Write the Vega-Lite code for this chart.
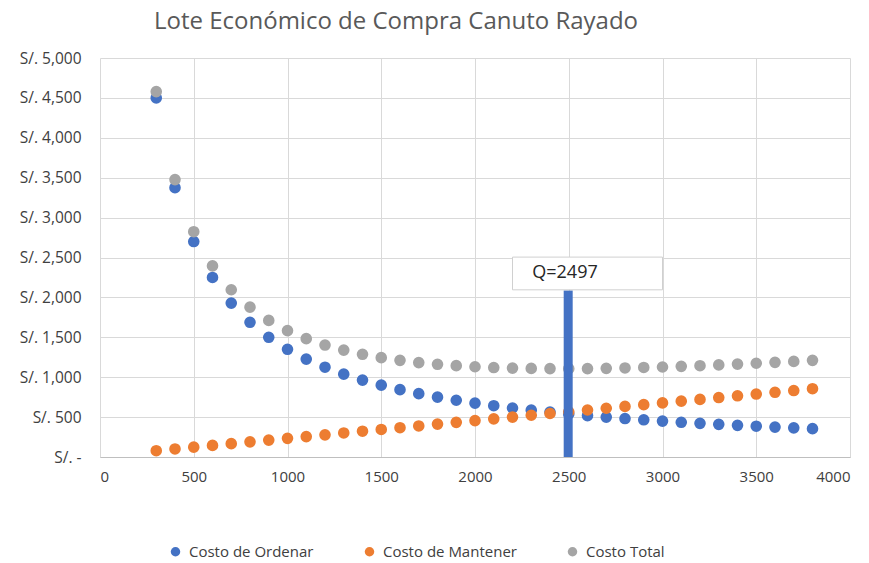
{
  "$schema": "https://vega.github.io/schema/vega-lite/v6.json",
  "width": 750,
  "height": 399,
  "autosize": "none",
  "padding": {"left": 100, "top": 58, "right": 19, "bottom": 106},
  "background": "white",
  "config": {
    "font": "Open Sans",
    "view": {"stroke": null},
    "axisY": {"labelOverlap": false}
  },
  "title": {
    "text": "Lote Económico de Compra Canuto Rayado",
    "fontSize": 24,
    "fontWeight": "normal",
    "color": "#595959",
    "offset": 17,
    "dx": -79
  },
  "datasets": {
    "costos": [
      {"q": 300, "Costo de Ordenar": 4500, "Costo de Mantener": 79, "Costo Total": 4579},
      {"q": 400, "Costo de Ordenar": 3375, "Costo de Mantener": 101, "Costo Total": 3476},
      {"q": 500, "Costo de Ordenar": 2700, "Costo de Mantener": 123, "Costo Total": 2823},
      {"q": 600, "Costo de Ordenar": 2250, "Costo de Mantener": 145, "Costo Total": 2395},
      {"q": 700, "Costo de Ordenar": 1929, "Costo de Mantener": 167, "Costo Total": 2096},
      {"q": 800, "Costo de Ordenar": 1688, "Costo de Mantener": 190, "Costo Total": 1878},
      {"q": 900, "Costo de Ordenar": 1500, "Costo de Mantener": 212, "Costo Total": 1712},
      {"q": 1000, "Costo de Ordenar": 1350, "Costo de Mantener": 234, "Costo Total": 1584},
      {"q": 1100, "Costo de Ordenar": 1227, "Costo de Mantener": 256, "Costo Total": 1483},
      {"q": 1200, "Costo de Ordenar": 1125, "Costo de Mantener": 278, "Costo Total": 1403},
      {"q": 1300, "Costo de Ordenar": 1038, "Costo de Mantener": 301, "Costo Total": 1340},
      {"q": 1400, "Costo de Ordenar": 964, "Costo de Mantener": 323, "Costo Total": 1287},
      {"q": 1500, "Costo de Ordenar": 900, "Costo de Mantener": 345, "Costo Total": 1245},
      {"q": 1600, "Costo de Ordenar": 844, "Costo de Mantener": 367, "Costo Total": 1211},
      {"q": 1700, "Costo de Ordenar": 794, "Costo de Mantener": 389, "Costo Total": 1183},
      {"q": 1800, "Costo de Ordenar": 750, "Costo de Mantener": 412, "Costo Total": 1162},
      {"q": 1900, "Costo de Ordenar": 711, "Costo de Mantener": 434, "Costo Total": 1145},
      {"q": 2000, "Costo de Ordenar": 675, "Costo de Mantener": 456, "Costo Total": 1131},
      {"q": 2100, "Costo de Ordenar": 643, "Costo de Mantener": 478, "Costo Total": 1121},
      {"q": 2200, "Costo de Ordenar": 614, "Costo de Mantener": 500, "Costo Total": 1114},
      {"q": 2300, "Costo de Ordenar": 587, "Costo de Mantener": 523, "Costo Total": 1110},
      {"q": 2400, "Costo de Ordenar": 563, "Costo de Mantener": 545, "Costo Total": 1108},
      {"q": 2500, "Costo de Ordenar": 540, "Costo de Mantener": 567, "Costo Total": 1107},
      {"q": 2600, "Costo de Ordenar": 519, "Costo de Mantener": 589, "Costo Total": 1108},
      {"q": 2700, "Costo de Ordenar": 500, "Costo de Mantener": 611, "Costo Total": 1111},
      {"q": 2800, "Costo de Ordenar": 482, "Costo de Mantener": 634, "Costo Total": 1116},
      {"q": 2900, "Costo de Ordenar": 466, "Costo de Mantener": 656, "Costo Total": 1122},
      {"q": 3000, "Costo de Ordenar": 450, "Costo de Mantener": 678, "Costo Total": 1128},
      {"q": 3100, "Costo de Ordenar": 435, "Costo de Mantener": 700, "Costo Total": 1136},
      {"q": 3200, "Costo de Ordenar": 422, "Costo de Mantener": 722, "Costo Total": 1144},
      {"q": 3300, "Costo de Ordenar": 409, "Costo de Mantener": 745, "Costo Total": 1154},
      {"q": 3400, "Costo de Ordenar": 397, "Costo de Mantener": 767, "Costo Total": 1164},
      {"q": 3500, "Costo de Ordenar": 386, "Costo de Mantener": 789, "Costo Total": 1175},
      {"q": 3600, "Costo de Ordenar": 375, "Costo de Mantener": 811, "Costo Total": 1186},
      {"q": 3700, "Costo de Ordenar": 365, "Costo de Mantener": 833, "Costo Total": 1198},
      {"q": 3800, "Costo de Ordenar": 355, "Costo de Mantener": 856, "Costo Total": 1211}
    ],
    "optimo": [
      {"q": 2497, "base": 0, "alto": 2085, "x1": 2200, "x2": 3000, "y1": 2095, "y2": 2505, "tx": 2480, "ty": 2300, "label": "Q=2497"}
    ]
  },
  "layer": [
    {
      "data": {"name": "costos"},
      "transform": [
        {"fold": ["Costo de Ordenar", "Costo de Mantener", "Costo Total"], "as": ["serie", "costo"]}
      ],
      "mark": {"type": "point", "filled": true, "size": 135, "opacity": 1},
      "encoding": {
        "x": {
          "field": "q", "type": "quantitative",
          "scale": {"domain": [0, 4000], "nice": false},
          "axis": {
            "title": null, "format": "d", "labelOverlap": false,
            "values": [0, 500, 1000, 1500, 2000, 2500, 3000, 3500, 4000],
            "grid": true, "gridColor": "#d9d9d9", "ticks": false,
            "domainColor": "#bfbfbf", "labelFontSize": 15, "labelColor": "#404040",
            "labelPadding": 12
          }
        },
        "y": {
          "field": "costo", "type": "quantitative",
          "scale": {"domain": [0, 5000], "nice": false},
          "axis": {
            "title": null, "labelOverlap": false,
            "values": [0, 500, 1000, 1500, 2000, 2500, 3000, 3500, 4000, 4500, 5000],
            "grid": true, "gridColor": "#d9d9d9", "ticks": false, "domain": false,
            "labelFontSize": 15.5, "labelColor": "#404040", "labelPadding": 19,
            "labelExpr": "datum.value == 0 ? 'S/. -   ' : 'S/. ' + format(datum.value, ',')"
          }
        },
        "color": {
          "field": "serie", "type": "nominal",
          "scale": {
            "domain": ["Costo de Ordenar", "Costo de Mantener", "Costo Total"],
            "range": ["#4472C4", "#ED7D31", "#A5A5A5"]
          },
          "legend": {
            "title": null, "orient": "none", "direction": "horizontal",
            "legendX": 68, "legendY": 486,
            "symbolType": "circle", "symbolSize": 90,
            "labelFontSize": 15, "labelColor": "#404040",
            "columnPadding": 48, "labelOffset": 6
          }
        }
      }
    },
    {
      "data": {"name": "optimo"},
      "mark": {"type": "rule", "strokeWidth": 9, "color": "#4472C4"},
      "encoding": {
        "x": {"field": "q", "type": "quantitative"},
        "y": {
          "field": "base", "type": "quantitative",
          "axis": {
            "title": null, "labelOverlap": false,
            "values": [0, 500, 1000, 1500, 2000, 2500, 3000, 3500, 4000, 4500, 5000],
            "grid": true, "gridColor": "#d9d9d9", "ticks": false, "domain": false,
            "labelFontSize": 15.5, "labelColor": "#404040", "labelPadding": 19,
            "labelExpr": "datum.value == 0 ? 'S/. -   ' : 'S/. ' + format(datum.value, ',')"
          }
        },
        "y2": {"field": "alto"}
      }
    },
    {
      "data": {"name": "optimo"},
      "mark": {"type": "rect", "fill": "white", "stroke": "#d0d0d0", "strokeWidth": 1},
      "encoding": {
        "x": {"field": "x1", "type": "quantitative"},
        "x2": {"field": "x2"},
        "y": {
          "field": "y1", "type": "quantitative",
          "axis": {
            "title": null, "labelOverlap": false,
            "values": [0, 500, 1000, 1500, 2000, 2500, 3000, 3500, 4000, 4500, 5000],
            "grid": true, "gridColor": "#d9d9d9", "ticks": false, "domain": false,
            "labelFontSize": 15.5, "labelColor": "#404040", "labelPadding": 19,
            "labelExpr": "datum.value == 0 ? 'S/. -   ' : 'S/. ' + format(datum.value, ',')"
          }
        },
        "y2": {"field": "y2"}
      }
    },
    {
      "data": {"name": "optimo"},
      "mark": {"type": "text", "fontSize": 18, "color": "#262626", "align": "center", "baseline": "middle"},
      "encoding": {
        "x": {"field": "tx", "type": "quantitative"},
        "y": {
          "field": "ty", "type": "quantitative",
          "axis": {
            "title": null, "labelOverlap": false,
            "values": [0, 500, 1000, 1500, 2000, 2500, 3000, 3500, 4000, 4500, 5000],
            "grid": true, "gridColor": "#d9d9d9", "ticks": false, "domain": false,
            "labelFontSize": 15.5, "labelColor": "#404040", "labelPadding": 19,
            "labelExpr": "datum.value == 0 ? 'S/. -   ' : 'S/. ' + format(datum.value, ',')"
          }
        },
        "text": {"field": "label"}
      }
    }
  ]
}
